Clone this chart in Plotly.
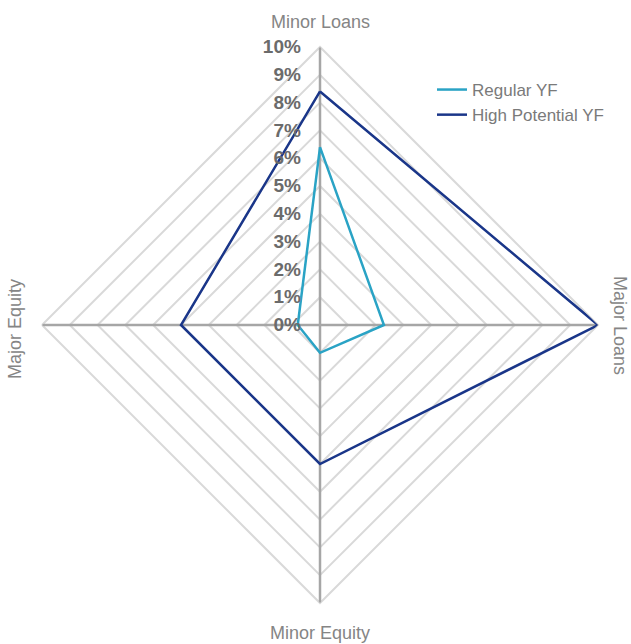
import plotly.graph_objects as go

categories = ["Minor Loans", "Major Loans", "Minor Equity", "Major Equity"]
regular_yf = [6.4, 2.3, 1.0, 0.8]
high_potential_yf = [8.4, 10.0, 5.0, 5.0]
series_names = ["Regular YF", "High Potential YF"]
tick_vals = list(range(0, 11))
tick_text = [f"{v}%" for v in tick_vals]
axis_max = 10

W, H = 631, 644
cx, cy, R = 320, 325, 278

fig = go.Figure()
# spokes drawn above the ring grid (as in the reference)
for cat in categories:
    fig.add_trace(go.Scatterpolar(
        r=[0, axis_max], theta=[cat, cat], mode="lines",
        line=dict(color="#a6a6a6", width=2.5),
        showlegend=False, hoverinfo="skip",
    ))
for name, vals, color in [
    (series_names[0], regular_yf, "#2aa3c5"),
    (series_names[1], high_potential_yf, "#1a3689"),
]:
    fig.add_trace(go.Scatterpolar(
        r=vals + vals[:1],
        theta=categories + categories[:1],
        mode="lines",
        name=name,
        line=dict(color=color, width=2.5),
    ))

label_font = dict(family="Liberation Sans, Arial, sans-serif", size=18, color="#858585")
fig.update_layout(
    width=W, height=H,
    margin=dict(l=0, r=0, t=0, b=0),
    paper_bgcolor="white",
    plot_bgcolor="white",
    showlegend=True,
    legend=dict(
        x=432 / W, y=(H - 72) / H, xanchor="left", yanchor="top",
        font=dict(family="Liberation Sans, Arial, sans-serif", size=17, color="#7a7a7a"),
        bgcolor="rgba(0,0,0,0)", tracegroupgap=4,
    ),
    polar=dict(
        domain=dict(x=[(cx - R) / W, (cx + R) / W], y=[(H - cy - R) / H, (H - cy + R) / H]),
        gridshape="linear",
        bgcolor="white",
        radialaxis=dict(
            range=[0, axis_max], tickvals=tick_vals, ticktext=tick_text,
            angle=90, side="counterclockwise", tickangle=90,
            showline=False,
            gridcolor="#d9d9d9", gridwidth=2,
            ticks="outside", ticklen=12, tickcolor="rgba(0,0,0,0)",
            tickfont=dict(family="Liberation Sans, Arial, sans-serif", size=19, color="#6b6b6b", weight=600),
            layer="above traces",
        ),
        angularaxis=dict(
            rotation=90, direction="clockwise",
            showticklabels=False, ticks="",
            showline=True, linecolor="#d9d9d9", linewidth=2,
            showgrid=False,
            layer="below traces",
        ),
    ),
    annotations=[
        dict(text=categories[0], x=cx / W, y=(H - 22) / H, xref="paper", yref="paper",
             showarrow=False, font=label_font, xanchor="center", yanchor="middle"),
        dict(text=categories[1], x=620 / W, y=(H - 325) / H, xref="paper", yref="paper",
             showarrow=False, font=label_font, xanchor="center", yanchor="middle", textangle=90),
        dict(text=categories[2], x=cx / W, y=(H - 633) / H, xref="paper", yref="paper",
             showarrow=False, font=label_font, xanchor="center", yanchor="middle"),
        dict(text=categories[3], x=15 / W, y=(H - 329) / H, xref="paper", yref="paper",
             showarrow=False, font=label_font, xanchor="center", yanchor="middle", textangle=-90),
    ],
)

fig.write_html("out.html")
